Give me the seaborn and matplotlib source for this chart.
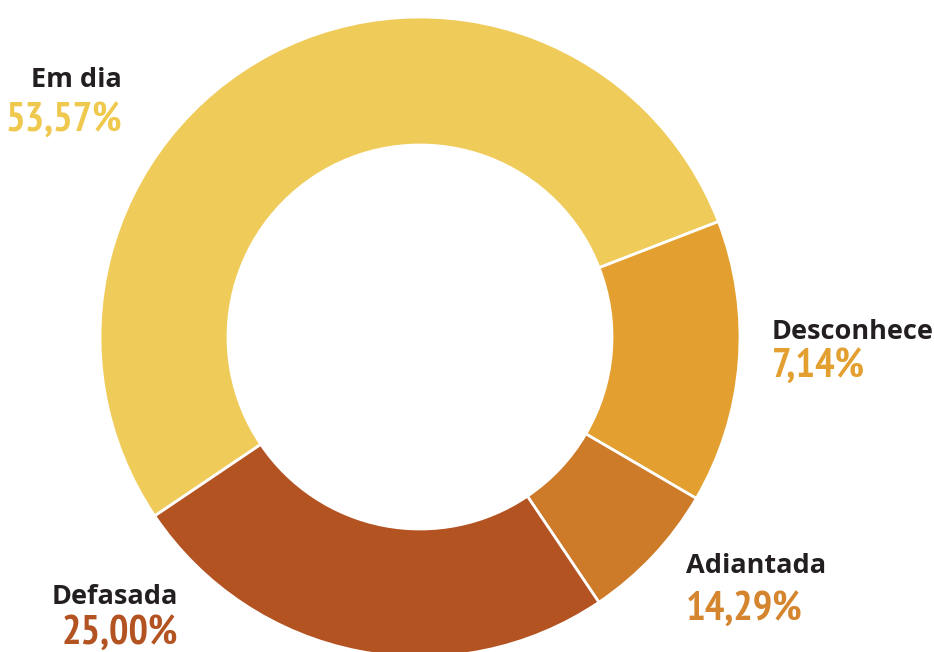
import matplotlib
matplotlib.use("Agg")
import matplotlib.pyplot as plt
from matplotlib import font_manager
import seaborn as sns

categories = ["Em dia", "Desconhece", "Adiantada", "Defasada"]
values = [53.57, 14.29, 7.14, 25.00]          # slice sizes as drawn
pct_labels = ["53,57%", "7,14%", "14,29%", "25,00%"]  # printed labels
slice_colors = ["#EFCB5A", "#E3A030", "#CD7A29", "#B35322"]
label_colors = ["#EFC84E", "#E3A030", "#D4852E", "#B35322"]

sns.set_theme(style="white")
names = {f.name for f in font_manager.fontManager.ttflist}
name_font = [f for f in ["Open Sans", "PT Sans"] if f in names] + ["DejaVu Sans"]
pct_font = [f for f in ["PT Sans Narrow", "Fira Sans Condensed", "Roboto Condensed"] if f in names] + ["DejaVu Sans"]

fig = plt.figure(figsize=(9.34, 6.52), dpi=100)
ax = fig.add_axes([0, 0, 1, 1])
R = 320.0
cx, cy = 420.0, 337.0
ax.pie(values, colors=slice_colors, startangle=214, counterclock=False,
       radius=1.0, wedgeprops=dict(width=0.4, edgecolor="white", linewidth=2))
ax.set_xlim(-cx / R, (934 - cx) / R)
ax.set_ylim(-(652 - cy) / R, cy / R)
ax.set_aspect("auto")
ax.axis("off")

def P(x, y):
    return (x - cx) / R, (cy - y) / R

# (x, name_baseline, pct_baseline, align)
pos = [(122, 87, 132, "right"), (772, 339, 378, "left"),
       (686, 573, 621, "left"), (178, 604, 645, "right")]
for cat, pl, lc, (x, yn, yp, ha) in zip(categories, pct_labels, label_colors, pos):
    xn, yyn = P(x, yn)
    ax.text(xn, yyn, cat, ha=ha, va="baseline", fontsize=19.5, fontweight="bold",
            color="#231F20", family=name_font)
    xp, yyp = P(x, yp)
    ax.text(xp, yyp, pl, ha=ha, va="baseline", fontsize=29.5, fontweight="bold",
            color=lc, family=pct_font)

fig.savefig("out.png", dpi=100)
